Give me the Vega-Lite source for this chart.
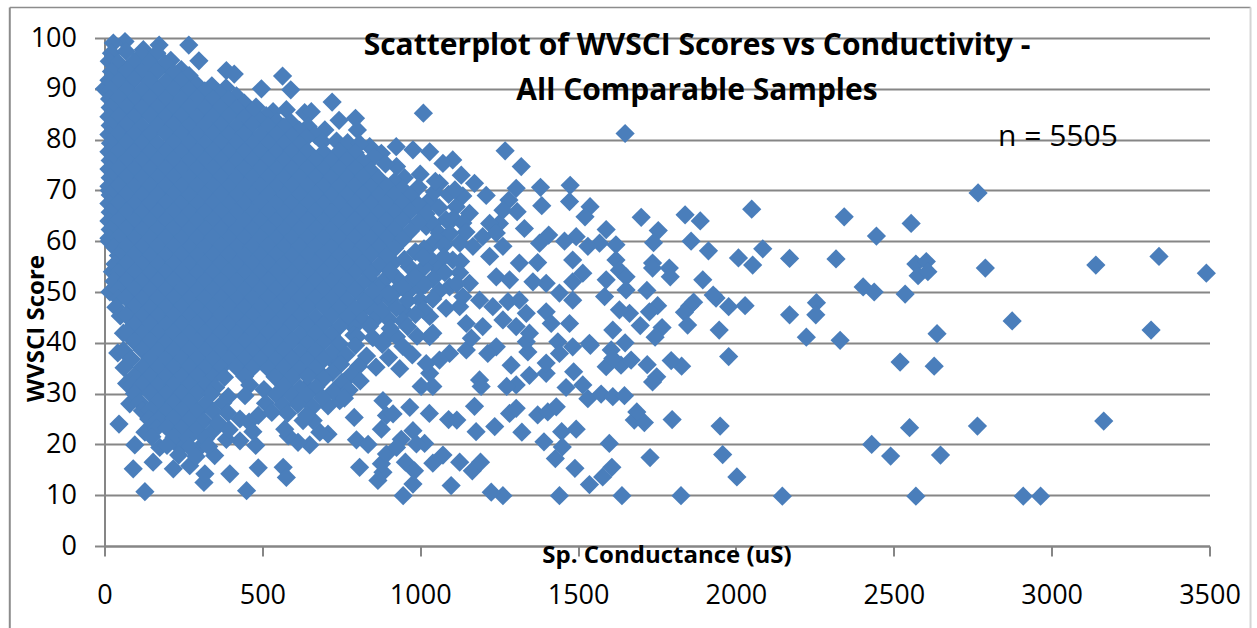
{"$schema":"https://vega.github.io/schema/vega-lite/v6.json","width":1105,"height":508,"autosize":"none","padding":{"left":104.5,"top":38,"right":47.5,"bottom":82},"background":"white","config":{"view":{"stroke":null},"font":"Open Sans"},
"title":{"text":["Scatterplot of WVSCI Scores vs Conductivity -","All Comparable Samples"],"font":"Open Sans","fontSize":30,"fontWeight":"bold","color":"#000000","lineHeight":45,"anchor":"middle","dx":40,"dy":114,"offset":0,"baseline":"middle"},
"datasets":{"samples":[
{"x":3490,"y":53.7},{"x":3340,"y":57},{"x":3140,"y":55.3},{"x":3315,"y":42.5},{"x":3165,"y":24.6},{"x":2965,"y":9.8},{"x":2910,"y":9.8},{"x":2767,"y":69.5},{"x":2790,"y":54.7},{"x":2875,"y":44.3},{"x":2765,"y":23.6},{"x":2570,"y":9.8},{"x":2050,"y":66.3},{"x":2085,"y":58.5},{"x":2008,"y":56.7},{"x":2053,"y":55.3},{"x":2170,"y":56.6},{"x":2317,"y":56.5},{"x":2343,"y":64.8},{"x":2445,"y":61},{"x":2403,"y":51},{"x":2438,"y":50},{"x":2536,"y":49.6},{"x":2555,"y":63.5},{"x":2570,"y":55.5},{"x":2577,"y":53.2},{"x":2603,"y":56},{"x":2608,"y":54},{"x":2255,"y":47.9},{"x":2253,"y":45.5},{"x":2170,"y":45.5},{"x":2223,"y":41.1},{"x":2330,"y":40.5},{"x":2520,"y":36.2},{"x":2637,"y":41.8},{"x":2628,"y":35.4},{"x":2430,"y":20},{"x":2490,"y":17.7},{"x":2550,"y":23.3},{"x":2648,"y":17.9},{"x":2147,"y":9.8},
{"x":2003,"y":13.6},{"x":1958,"y":18},{"x":1950,"y":23.6},{"x":1977,"y":37.3},{"x":1947,"y":42.5},{"x":2029,"y":47.3},{"x":1977,"y":47.1},{"x":1937,"y":48.8},{"x":1928,"y":49.4},{"x":1895,"y":52.4},{"x":1913,"y":58.1},{"x":1887,"y":64},{"x":1839,"y":65.2},{"x":1858,"y":60},{"x":1866,"y":48},{"x":1853,"y":47.2},{"x":1837,"y":46},{"x":1847,"y":43.5},{"x":1828,"y":35.4},{"x":1795,"y":36.5},{"x":1798,"y":24.9},{"x":1826,"y":9.9},{"x":1728,"y":17.4},{"x":1749,"y":33.3},{"x":1736,"y":32.3},{"x":1700,"y":64.7},{"x":1754,"y":62.1},{"x":1739,"y":59.7},{"x":1736,"y":55.7},{"x":1736,"y":54.7},{"x":1789,"y":54.7},{"x":1792,"y":53},{"x":1718,"y":50.3},{"x":1752,"y":47.3},{"x":1726,"y":46.1},{"x":1697,"y":43.4},{"x":1766,"y":43},{"x":1744,"y":41.1},{"x":1719,"y":35.7},{"x":1649,"y":81.2},{"x":1678,"y":24.8},{"x":1710,"y":24.3},{"x":1686,"y":26.4},
{"x":1029,"y":26.1},{"x":1090,"y":24.9},{"x":1116,"y":24.8},{"x":1177,"y":22.5},{"x":1236,"y":23.5},{"x":1322,"y":22.4},{"x":1392,"y":20.5},{"x":1450,"y":19.5},{"x":1428,"y":17.2},{"x":1494,"y":23},{"x":1448,"y":22.5},{"x":1490,"y":15.3},{"x":1536,"y":12.1},{"x":1578,"y":13.6},{"x":1607,"y":15.5},{"x":1599,"y":20.2},{"x":1441,"y":9.9},{"x":1639,"y":9.9},{"x":1262,"y":9.9},{"x":1225,"y":10.6},{"x":1098,"y":11.9},{"x":1125,"y":16.5},{"x":1165,"y":14.8},{"x":1191,"y":16.5},{"x":1072,"y":17.9},{"x":1040,"y":16.3},{"x":1014,"y":20.2},{"x":1172,"y":27.5},{"x":1283,"y":26.1},{"x":1304,"y":27.1},{"x":1372,"y":25.8},{"x":1404,"y":26.4},{"x":1431,"y":27.4},{"x":1531,"y":29},{"x":1573,"y":29.9},{"x":1610,"y":29.4},{"x":1647,"y":29.6},{"x":1462,"y":31.2},{"x":1515,"y":31.7},{"x":1486,"y":34.3},{"x":1399,"y":34},{"x":1399,"y":36},{"x":1346,"y":33.6},{"x":1288,"y":35.6},{"x":1304,"y":31.7},{"x":1274,"y":31.4},{"x":1188,"y":32.7},{"x":1193,"y":31.4},{"x":1040,"y":31.4},{"x":1003,"y":31.4},{"x":1030,"y":34},{"x":1483,"y":39.2},{"x":1539,"y":39.5},{"x":1589,"y":35.3},{"x":1636,"y":35.6},{"x":1668,"y":36.6},{"x":1649,"y":40},{"x":1605,"y":38.6},{"x":1610,"y":36.9},{"x":1436,"y":40.2},{"x":1441,"y":37.9},{"x":1341,"y":38.2},{"x":1336,"y":40.2},{"x":1241,"y":39.2},{"x":1214,"y":37.9},{"x":1146,"y":38.6},{"x":1093,"y":37.9},{"x":1061,"y":36.6},{"x":1019,"y":35.9},{"x":1030,"y":41.2},{"x":1162,"y":40.9},
{"x":1010,"y":85.2},{"x":1269,"y":77.8},{"x":1320,"y":74.7},{"x":1381,"y":70.6},{"x":1475,"y":71},{"x":1385,"y":67},{"x":1473,"y":67.8},{"x":1538,"y":66.8},{"x":1522,"y":64.8},{"x":1589,"y":62.3},{"x":1663,"y":45.8},{"x":1631,"y":46.5},{"x":1610,"y":42.5},{"x":1620,"y":59.3},{"x":1568,"y":59.6},{"x":1531,"y":59},{"x":1494,"y":60.9},{"x":1457,"y":60},{"x":1407,"y":61.2},{"x":1378,"y":59.6},{"x":1330,"y":62.5},{"x":1304,"y":70.4},{"x":1281,"y":68.1},{"x":1307,"y":65.8},{"x":1251,"y":63.5},{"x":1220,"y":63.5},{"x":1209,"y":69},{"x":1172,"y":71.4},{"x":1103,"y":76},{"x":1072,"y":75.3},{"x":1030,"y":77.6},{"x":1130,"y":73},{"x":1372,"y":55.8},{"x":1483,"y":56.3},{"x":1620,"y":56.3},{"x":1631,"y":54.3},{"x":1584,"y":49.1},{"x":1652,"y":50.4},{"x":1652,"y":53},{"x":1589,"y":52.4},{"x":1515,"y":53.7},{"x":1483,"y":52},{"x":1441,"y":49.8},{"x":1483,"y":48.4},{"x":1399,"y":46.1},{"x":1415,"y":43.8},{"x":1473,"y":43.8},{"x":1536,"y":39.9},{"x":1399,"y":51.7},{"x":1357,"y":52},{"x":1314,"y":48.4},{"x":1278,"y":48.1},{"x":1336,"y":45.8},{"x":1304,"y":43.2},{"x":1346,"y":41.9},{"x":1230,"y":47.1},{"x":1188,"y":48.4},{"x":1125,"y":47.1},{"x":1082,"y":46.8},{"x":1030,"y":45.2},{"x":1146,"y":43.8},{"x":1198,"y":43.2},{"x":1262,"y":44.5},{"x":1040,"y":41.9},{"x":1135,"y":49.1},{"x":1241,"y":53},{"x":1283,"y":52.4},{"x":1314,"y":55.7},{"x":1220,"y":57},{"x":1156,"y":51.7},{"x":1093,"y":51},{"x":1051,"y":55},{"x":1103,"y":56.3},{"x":1167,"y":59},{"x":1030,"y":68.1},{"x":1061,"y":71.4},{"x":1114,"y":66.8},{"x":1156,"y":65.5},{"x":1082,"y":64.2},{"x":1019,"y":62.9},{"x":1198,"y":60.9},{"x":1262,"y":59},{"x":1125,"y":59.6},{"x":1040,"y":59.6},{"x":1262,"y":66.1},{"x":1241,"y":61.6},
{"x":1045,"y":69.7},{"x":1090,"y":69.2},{"x":1135,"y":68.9},{"x":1010,"y":66.4},{"x":1060,"y":66.6},{"x":1105,"y":64.5},{"x":1135,"y":63.6},{"x":1040,"y":63.4},{"x":1060,"y":61.6},{"x":1095,"y":61.5},{"x":1145,"y":61.8},{"x":1012,"y":58.5},{"x":1075,"y":59.2},{"x":1030,"y":56.7},{"x":1075,"y":56.9},{"x":1128,"y":56},{"x":1012,"y":54.8},{"x":1078,"y":53.8},{"x":1125,"y":53.8},{"x":1040,"y":52.6},{"x":1000,"y":50.8},{"x":1060,"y":50.2},{"x":1115,"y":51.6},{"x":965,"y":52},{"x":930,"y":52.5},{"x":890,"y":52.6},{"x":845,"y":52.2},{"x":965,"y":55},{"x":915,"y":55.8},{"x":870,"y":50.6},{"x":925,"y":50.3},{"x":960,"y":49.9},{"x":820,"y":48.8},{"x":860,"y":48.7},{"x":905,"y":48.5},{"x":1000,"y":48.4},{"x":1040,"y":48.6},{"x":820,"y":46.6},{"x":850,"y":46.4},{"x":950,"y":46.2},{"x":1010,"y":46.5},{"x":815,"y":44.8},{"x":860,"y":44.8},{"x":900,"y":44.6},{"x":945,"y":44.3},{"x":790,"y":43.1},{"x":890,"y":40.8},{"x":925,"y":41.2},{"x":790,"y":41.5},{"x":745,"y":37.7},{"x":720,"y":36.6},{"x":690,"y":33.6},{"x":640,"y":31.3},
{"x":46,"y":24},{"x":96,"y":19.9},{"x":91,"y":15.2},{"x":128,"y":10.7},{"x":154,"y":16.5},{"x":218,"y":15.2},{"x":270,"y":15.8},{"x":315,"y":12.5},{"x":318,"y":14.2},{"x":397,"y":14.2},{"x":349,"y":17.8},{"x":450,"y":10.9},{"x":487,"y":15.4},{"x":479,"y":19.8},{"x":429,"y":20.7},{"x":386,"y":21},{"x":344,"y":22.7},{"x":302,"y":19.4},{"x":239,"y":19.4},{"x":175,"y":19.4},{"x":128,"y":22.4},{"x":566,"y":15.5},{"x":576,"y":13.5},{"x":808,"y":15.5},{"x":866,"y":12.9},{"x":882,"y":14.5},{"x":877,"y":16.2},{"x":946,"y":9.9},{"x":953,"y":16.5},{"x":893,"y":18.1},{"x":977,"y":12.2},{"x":798,"y":20.9},{"x":835,"y":20},{"x":791,"y":25.3},{"x":650,"y":19.9},{"x":708,"y":22},{"x":682,"y":22.4},{"x":613,"y":20.4},{"x":582,"y":21.7},{"x":571,"y":23},{"x":877,"y":23},{"x":893,"y":25.7},{"x":940,"y":21},{"x":925,"y":19.4},{"x":487,"y":25.7},{"x":429,"y":25},{"x":708,"y":27.6},{"x":745,"y":28.6},{"x":661,"y":24.7},{"x":629,"y":24.7},{"x":882,"y":28.6},{"x":914,"y":26},{"x":967,"y":27.3},{"x":977,"y":22.7},{"x":988,"y":20.1},{"x":982,"y":14.8},
{"x":267,"y":98.6},{"x":299,"y":95.5},{"x":386,"y":93.6},{"x":411,"y":92.9},{"x":497,"y":90},{"x":564,"y":92.5},{"x":590,"y":89.8},{"x":721,"y":87.4},{"x":634,"y":85.3},{"x":655,"y":85.5},{"x":795,"y":84.2},{"x":801,"y":81.9},{"x":743,"y":83.8},{"x":924,"y":78.6},{"x":840,"y":78.6},{"x":877,"y":77.3},{"x":925,"y":74.7},{"x":977,"y":78},{"x":645,"y":82.6},{"x":698,"y":81.9},{"x":576,"y":85.9},{"x":534,"y":85.5},{"x":65,"y":99.3},{"x":28,"y":99},{"x":173,"y":98.6},{"x":123,"y":97.7},{"x":0,"y":90},{"x":15,"y":70},{"x":17,"y":50},{"x":25,"y":54},{"x":15,"y":60},{"x":42,"y":38},{"x":70,"y":32},{"x":80,"y":28},
{"x":22,"y":97},{"x":68,"y":97.4},{"x":118,"y":96.8},{"x":166,"y":97},{"x":210,"y":95.6},
{"x":15,"y":95.4},{"x":44,"y":95.1},{"x":93,"y":95.3},{"x":143,"y":95.2},{"x":192,"y":95},{"x":243,"y":93.8},
{"x":22,"y":93.4},{"x":69,"y":93.6},{"x":117,"y":93.3},{"x":167,"y":93.5},{"x":218,"y":93.2},{"x":268,"y":92.6},
{"x":14,"y":91.7},{"x":45,"y":91.5},{"x":94,"y":91.8},{"x":144,"y":91.6},{"x":193,"y":91.4},{"x":243,"y":91.5},{"x":293,"y":90.8},{"x":340,"y":90.6},{"x":385,"y":90.2},
{"x":20,"y":89.8},{"x":70,"y":89.9},{"x":118,"y":89.7},{"x":169,"y":89.8},{"x":219,"y":89.9},{"x":268,"y":89.7},{"x":318,"y":89.6},{"x":368,"y":88.9},{"x":418,"y":88.6},
{"x":16,"y":88},{"x":45,"y":88.2},{"x":95,"y":87.9},{"x":144,"y":88.1},{"x":194,"y":88},{"x":244,"y":87.9},{"x":293,"y":88.1},{"x":344,"y":88},{"x":393,"y":87.9},{"x":443,"y":87.2},{"x":480,"y":86.4},
{"x":18,"y":86.3},{"x":70,"y":86.4},{"x":119,"y":86.2},{"x":168,"y":86.3},{"x":219,"y":86.1},{"x":269,"y":86.4},{"x":318,"y":86.2},{"x":368,"y":86.3},{"x":418,"y":86.1},{"x":468,"y":85.6},{"x":512,"y":84.7},
{"x":14,"y":84.5},{"x":45,"y":84.6},{"x":94,"y":84.4},{"x":145,"y":84.7},{"x":194,"y":84.5},{"x":243,"y":84.6},{"x":294,"y":84.4},{"x":343,"y":84.5},{"x":394,"y":84.6},{"x":444,"y":84.3},{"x":494,"y":83.8},{"x":545,"y":83.6},{"x":590,"y":83.4},
{"x":18,"y":82.8},{"x":69,"y":82.9},{"x":119,"y":82.7},{"x":169,"y":82.8},{"x":218,"y":82.9},{"x":268,"y":82.7},{"x":319,"y":82.9},{"x":369,"y":82.8},{"x":419,"y":82.6},{"x":468,"y":82.9},{"x":518,"y":82.7},{"x":568,"y":82.5},{"x":618,"y":81.8},{"x":668,"y":80.9},
{"x":14,"y":81},{"x":44,"y":81.2},{"x":95,"y":81.1},{"x":144,"y":81},{"x":194,"y":81.2},{"x":244,"y":81.1},{"x":293,"y":81},{"x":344,"y":81.2},{"x":394,"y":81},{"x":443,"y":81.1},{"x":494,"y":80.9},{"x":544,"y":81},{"x":594,"y":80.7},{"x":640,"y":80.4},{"x":690,"y":79.6},{"x":735,"y":79.7},{"x":770,"y":79.4},{"x":808,"y":79.2},
{"x":19,"y":79.3},{"x":69,"y":79.4},{"x":118,"y":79.3},{"x":168,"y":79.2},{"x":219,"y":79.4},{"x":269,"y":79.3},{"x":318,"y":79.2},{"x":368,"y":79.4},{"x":418,"y":79.3},{"x":469,"y":79.1},{"x":519,"y":79.3},{"x":569,"y":79.2},{"x":618,"y":79},
{"x":14,"y":77.6},{"x":44,"y":77.7},{"x":94,"y":77.5},{"x":144,"y":77.6},{"x":194,"y":77.7},{"x":243,"y":77.5},{"x":294,"y":77.6},{"x":344,"y":77.7},{"x":394,"y":77.5},{"x":444,"y":77.6},{"x":494,"y":77.7},{"x":544,"y":77.5},{"x":593,"y":77.6},{"x":643,"y":77.7},{"x":694,"y":77.5},{"x":744,"y":77.6},{"x":794,"y":77.4},{"x":854,"y":76.6},
{"x":18,"y":75.9},{"x":69,"y":76},{"x":119,"y":75.8},{"x":169,"y":75.9},{"x":218,"y":76},{"x":268,"y":75.8},{"x":318,"y":75.9},{"x":369,"y":76},{"x":419,"y":75.8},{"x":468,"y":75.9},{"x":518,"y":76},{"x":568,"y":75.8},{"x":618,"y":75.9},{"x":669,"y":76},{"x":719,"y":75.8},{"x":768,"y":75.9},{"x":818,"y":75.6},{"x":890,"y":75.2},
{"x":14,"y":74.2},{"x":44,"y":74.3},{"x":95,"y":74.1},{"x":144,"y":74.2},{"x":193,"y":74.3},{"x":244,"y":74.1},{"x":294,"y":74.2},{"x":344,"y":74.3},{"x":393,"y":74.1},{"x":443,"y":74.2},{"x":494,"y":74.3},{"x":544,"y":74.1},{"x":594,"y":74.2},{"x":644,"y":74.3},{"x":693,"y":74.1},{"x":744,"y":74.2},{"x":794,"y":74.3},{"x":844,"y":73.9},{"x":950,"y":72.5},{"x":1000,"y":73.2},{"x":1048,"y":71.8},
{"x":18,"y":72.5},{"x":69,"y":72.6},{"x":118,"y":72.4},{"x":169,"y":72.5},{"x":219,"y":72.6},{"x":269,"y":72.4},{"x":319,"y":72.5},{"x":368,"y":72.6},{"x":418,"y":72.4},{"x":469,"y":72.5},{"x":519,"y":72.6},{"x":568,"y":72.4},{"x":618,"y":72.5},{"x":669,"y":72.6},{"x":718,"y":72.4},{"x":769,"y":72.5},{"x":819,"y":72.6},{"x":869,"y":72.3},{"x":918,"y":71.7},
{"x":14,"y":70.8},{"x":44,"y":70.9},{"x":94,"y":70.7},{"x":144,"y":70.8},{"x":194,"y":70.9},{"x":244,"y":70.7},{"x":293,"y":70.8},{"x":344,"y":70.9},{"x":394,"y":70.7},{"x":444,"y":70.8},{"x":493,"y":70.9},{"x":544,"y":70.7},{"x":594,"y":70.8},{"x":644,"y":70.9},{"x":694,"y":70.7},{"x":744,"y":70.8},{"x":793,"y":70.9},{"x":844,"y":70.7},{"x":894,"y":70.8},{"x":944,"y":70.3},{"x":994,"y":70.6},{"x":1110,"y":70.1},
{"x":18,"y":69.1},{"x":69,"y":69.2},{"x":119,"y":69},{"x":168,"y":69.1},{"x":219,"y":69.2},{"x":269,"y":69},{"x":318,"y":69.1},{"x":369,"y":69.2},{"x":419,"y":69},{"x":468,"y":69.1},{"x":519,"y":69.2},{"x":569,"y":69},{"x":618,"y":69.1},{"x":669,"y":69.2},{"x":719,"y":69},{"x":768,"y":69.1},{"x":819,"y":69.2},{"x":869,"y":69},{"x":918,"y":69.1},{"x":969,"y":68.9},
{"x":14,"y":67.4},{"x":44,"y":67.5},{"x":95,"y":67.3},{"x":144,"y":67.4},{"x":194,"y":67.5},{"x":243,"y":67.3},{"x":294,"y":67.4},{"x":344,"y":67.5},{"x":394,"y":67.3},{"x":443,"y":67.4},{"x":494,"y":67.5},{"x":544,"y":67.3},{"x":593,"y":67.4},{"x":644,"y":67.5},{"x":694,"y":67.3},{"x":744,"y":67.4},{"x":793,"y":67.5},{"x":844,"y":67.3},{"x":894,"y":67.4},{"x":944,"y":67.5},{"x":994,"y":67.2},
{"x":18,"y":65.7},{"x":69,"y":65.8},{"x":118,"y":65.6},{"x":169,"y":65.7},{"x":218,"y":65.8},{"x":269,"y":65.6},{"x":319,"y":65.7},{"x":368,"y":65.8},{"x":419,"y":65.6},{"x":469,"y":65.7},{"x":518,"y":65.8},{"x":569,"y":65.6},{"x":619,"y":65.7},{"x":668,"y":65.8},{"x":719,"y":65.6},{"x":769,"y":65.7},{"x":818,"y":65.8},{"x":869,"y":65.6},{"x":919,"y":65.7},{"x":968,"y":65.8},{"x":1019,"y":65.4},
{"x":14,"y":64},{"x":44,"y":64.1},{"x":94,"y":63.9},{"x":144,"y":64},{"x":194,"y":64.1},{"x":244,"y":63.9},{"x":293,"y":64},{"x":344,"y":64.1},{"x":394,"y":63.9},{"x":444,"y":64},{"x":494,"y":64.1},{"x":543,"y":63.9},{"x":594,"y":64},{"x":644,"y":64.1},{"x":694,"y":63.9},{"x":743,"y":64},{"x":794,"y":64.1},{"x":844,"y":63.9},{"x":893,"y":64},{"x":944,"y":64.1},{"x":994,"y":63.7},
{"x":18,"y":62.3},{"x":69,"y":62.4},{"x":119,"y":62.2},{"x":169,"y":62.3},{"x":218,"y":62.4},{"x":268,"y":62.2},{"x":319,"y":62.3},{"x":369,"y":62.4},{"x":418,"y":62.2},{"x":469,"y":62.3},{"x":519,"y":62.4},{"x":568,"y":62.2},{"x":619,"y":62.3},{"x":669,"y":62.4},{"x":718,"y":62.2},{"x":769,"y":62.3},{"x":819,"y":62.4},{"x":868,"y":62.2},{"x":919,"y":62.3},{"x":969,"y":62},
{"x":14,"y":60.6},{"x":44,"y":60.7},{"x":95,"y":60.5},{"x":144,"y":60.6},{"x":194,"y":60.7},{"x":244,"y":60.5},{"x":294,"y":60.6},{"x":343,"y":60.7},{"x":394,"y":60.5},{"x":444,"y":60.6},{"x":494,"y":60.7},{"x":544,"y":60.5},{"x":594,"y":60.6},{"x":643,"y":60.7},{"x":694,"y":60.5},{"x":744,"y":60.6},{"x":793,"y":60.7},{"x":844,"y":60.5},{"x":894,"y":60.6},{"x":944,"y":60.3},
{"x":30,"y":58.9},{"x":69,"y":59},{"x":118,"y":58.8},{"x":168,"y":58.9},{"x":219,"y":59},{"x":269,"y":58.8},{"x":318,"y":58.9},{"x":369,"y":59},{"x":419,"y":58.8},{"x":468,"y":58.9},{"x":518,"y":59},{"x":569,"y":58.8},{"x":618,"y":58.9},{"x":668,"y":59},{"x":719,"y":58.8},{"x":769,"y":58.9},{"x":818,"y":59},{"x":869,"y":58.8},{"x":919,"y":58.6},{"x":985,"y":57.9},
{"x":44,"y":57.2},{"x":94,"y":57.3},{"x":144,"y":57.1},{"x":194,"y":57.2},{"x":243,"y":57.3},{"x":294,"y":57.1},{"x":344,"y":57.2},{"x":393,"y":57.3},{"x":444,"y":57.1},{"x":494,"y":57.2},{"x":543,"y":57.3},{"x":594,"y":57.1},{"x":644,"y":57.2},{"x":693,"y":57.3},{"x":744,"y":57.1},{"x":794,"y":57.2},{"x":843,"y":57.3},{"x":894,"y":57.1},{"x":950,"y":56.4},{"x":1010,"y":56.9},
{"x":33,"y":55.5},{"x":69,"y":55.6},{"x":119,"y":55.4},{"x":169,"y":55.5},{"x":218,"y":55.6},{"x":268,"y":55.4},{"x":319,"y":55.5},{"x":368,"y":55.6},{"x":418,"y":55.4},{"x":469,"y":55.5},{"x":518,"y":55.6},{"x":568,"y":55.4},{"x":619,"y":55.5},{"x":668,"y":55.6},{"x":718,"y":55.4},{"x":769,"y":55.5},{"x":818,"y":55.6},{"x":868,"y":55.2},
{"x":44,"y":53.8},{"x":95,"y":53.9},{"x":144,"y":53.7},{"x":193,"y":53.8},{"x":244,"y":53.9},{"x":294,"y":53.7},{"x":343,"y":53.8},{"x":394,"y":53.9},{"x":444,"y":53.7},{"x":493,"y":53.8},{"x":544,"y":53.9},{"x":594,"y":53.7},{"x":643,"y":53.8},{"x":694,"y":53.9},{"x":744,"y":53.7},{"x":793,"y":53.8},{"x":844,"y":53.6},{"x":905,"y":54.1},{"x":985,"y":53.1},
{"x":30,"y":52.1},{"x":69,"y":52.2},{"x":118,"y":52},{"x":169,"y":52.1},{"x":219,"y":52.2},{"x":268,"y":52},{"x":319,"y":52.1},{"x":369,"y":52.2},{"x":418,"y":52},{"x":469,"y":52.1},{"x":519,"y":52.2},{"x":568,"y":52},{"x":619,"y":52.1},{"x":669,"y":52.2},{"x":718,"y":52},{"x":769,"y":52.1},{"x":819,"y":51.8},{"x":945,"y":50.9},{"x":1015,"y":51.4},
{"x":44,"y":50.4},{"x":94,"y":50.5},{"x":144,"y":50.3},{"x":194,"y":50.4},{"x":243,"y":50.5},{"x":294,"y":50.3},{"x":344,"y":50.4},{"x":393,"y":50.5},{"x":444,"y":50.3},{"x":494,"y":50.4},{"x":543,"y":50.5},{"x":594,"y":50.3},{"x":644,"y":50.4},{"x":693,"y":50.5},{"x":744,"y":50.3},{"x":794,"y":50.4},{"x":850,"y":50.1},{"x":900,"y":49.8},
{"x":45,"y":48.7},{"x":69,"y":48.8},{"x":119,"y":48.6},{"x":168,"y":48.7},{"x":219,"y":48.8},{"x":269,"y":48.6},{"x":318,"y":48.7},{"x":369,"y":48.8},{"x":419,"y":48.6},{"x":468,"y":48.7},{"x":519,"y":48.8},{"x":569,"y":48.6},{"x":618,"y":48.7},{"x":668,"y":48.8},{"x":719,"y":48.6},{"x":769,"y":48.4},{"x":825,"y":48},{"x":960,"y":48.3},
{"x":36,"y":47},{"x":94,"y":47.1},{"x":144,"y":46.9},{"x":194,"y":47},{"x":244,"y":47.1},{"x":293,"y":46.9},{"x":344,"y":47},{"x":394,"y":47.1},{"x":443,"y":46.9},{"x":494,"y":47},{"x":544,"y":47.1},{"x":593,"y":46.9},{"x":644,"y":47},{"x":694,"y":47.1},{"x":743,"y":46.9},{"x":794,"y":46.7},{"x":880,"y":46.4},{"x":925,"y":46.8},{"x":985,"y":45.6},
{"x":50,"y":45.3},{"x":69,"y":45.4},{"x":118,"y":45.2},{"x":169,"y":45.3},{"x":219,"y":45.4},{"x":268,"y":45.2},{"x":319,"y":45.3},{"x":369,"y":45.4},{"x":418,"y":45.2},{"x":469,"y":45.3},{"x":519,"y":45.4},{"x":568,"y":45.2},{"x":619,"y":45.3},{"x":669,"y":45},{"x":718,"y":45.2},{"x":769,"y":45.1},
{"x":95,"y":43.6},{"x":144,"y":43.7},{"x":194,"y":43.5},{"x":243,"y":43.6},{"x":294,"y":43.7},{"x":344,"y":43.5},{"x":393,"y":43.6},{"x":444,"y":43.7},{"x":494,"y":43.5},{"x":543,"y":43.6},{"x":594,"y":43.7},{"x":644,"y":43.4},{"x":694,"y":43.6},{"x":744,"y":43.2},{"x":840,"y":43.3},{"x":905,"y":42.8},{"x":960,"y":43.2},
{"x":60,"y":41.9},{"x":69,"y":42},{"x":119,"y":41.8},{"x":168,"y":41.9},{"x":218,"y":42},{"x":269,"y":41.8},{"x":318,"y":41.9},{"x":369,"y":42},{"x":419,"y":41.8},{"x":468,"y":41.9},{"x":519,"y":42},{"x":569,"y":41.8},{"x":618,"y":41.6},{"x":668,"y":41.8},{"x":719,"y":41.5},{"x":800,"y":41.2},{"x":850,"y":41},{"x":990,"y":41.3},
{"x":95,"y":40.2},{"x":144,"y":40.3},{"x":193,"y":40.1},{"x":244,"y":40.2},{"x":294,"y":40.3},{"x":343,"y":40.1},{"x":394,"y":40.2},{"x":444,"y":40.3},{"x":493,"y":40.1},{"x":544,"y":40.2},{"x":594,"y":40.3},{"x":643,"y":39.9},{"x":694,"y":40.1},{"x":744,"y":39.8},{"x":795,"y":39.5},{"x":880,"y":39.7},{"x":945,"y":39.3},
{"x":60,"y":38.5},{"x":119,"y":38.6},{"x":169,"y":38.4},{"x":218,"y":38.5},{"x":269,"y":38.6},{"x":319,"y":38.4},{"x":368,"y":38.5},{"x":418,"y":38.6},{"x":469,"y":38.4},{"x":519,"y":38.3},{"x":568,"y":38.5},{"x":619,"y":38.2},{"x":669,"y":38.4},{"x":719,"y":38},{"x":765,"y":37.6},{"x":830,"y":37.4},{"x":900,"y":37.1},{"x":975,"y":37.6},
{"x":85,"y":36.8},{"x":144,"y":36.9},{"x":194,"y":36.7},{"x":244,"y":36.8},{"x":293,"y":36.9},{"x":344,"y":36.7},{"x":394,"y":36.8},{"x":443,"y":36.9},{"x":494,"y":36.7},{"x":544,"y":36.6},{"x":594,"y":36.8},{"x":644,"y":36.5},{"x":694,"y":36.7},{"x":748,"y":35.8},{"x":805,"y":35.4},{"x":860,"y":35.2},{"x":935,"y":34.9},
{"x":62,"y":35.1},{"x":119,"y":35.2},{"x":168,"y":35},{"x":219,"y":35.1},{"x":268,"y":35.2},{"x":319,"y":35},{"x":369,"y":35.1},{"x":418,"y":35.2},{"x":468,"y":35},{"x":519,"y":34.9},{"x":568,"y":35.1},{"x":618,"y":34.8},{"x":668,"y":35},{"x":722,"y":34.2},{"x":782,"y":33.8},
{"x":95,"y":33.4},{"x":144,"y":33.5},{"x":194,"y":33.3},{"x":244,"y":33.4},{"x":294,"y":33.5},{"x":344,"y":33.3},{"x":380,"y":33.2},{"x":444,"y":33.4},{"x":540,"y":33.3},{"x":594,"y":33.2},{"x":644,"y":33.4},{"x":694,"y":32.9},{"x":752,"y":32.2},{"x":810,"y":32.5},
{"x":88,"y":31.7},{"x":119,"y":31.8},{"x":169,"y":31.6},{"x":218,"y":31.7},{"x":269,"y":31.8},{"x":319,"y":31.6},{"x":352,"y":31.2},{"x":460,"y":31.7},{"x":505,"y":30.8},{"x":568,"y":31.5},{"x":619,"y":31.1},{"x":670,"y":31.3},{"x":724,"y":30.4},{"x":775,"y":30.7},
{"x":95,"y":30},{"x":144,"y":30.1},{"x":194,"y":29.9},{"x":243,"y":30},{"x":294,"y":30.1},{"x":338,"y":29.9},{"x":392,"y":29.4},{"x":445,"y":29.6},{"x":543,"y":29.8},{"x":594,"y":29.6},{"x":640,"y":29.7},{"x":690,"y":29.2},{"x":760,"y":29.1},
{"x":112,"y":28.3},{"x":169,"y":28.4},{"x":219,"y":28.2},{"x":268,"y":28.3},{"x":319,"y":28},{"x":375,"y":28.2},{"x":510,"y":28.1},{"x":565,"y":27.8},{"x":612,"y":27.9},{"x":660,"y":27.4},
{"x":120,"y":26.6},{"x":144,"y":26.7},{"x":194,"y":26.5},{"x":244,"y":26.6},{"x":292,"y":26.4},{"x":345,"y":26.5},{"x":390,"y":26.2},{"x":530,"y":26.3},{"x":580,"y":26.1},{"x":640,"y":25.8},
{"x":140,"y":25},{"x":170,"y":24.9},{"x":219,"y":25.1},{"x":268,"y":24.8},{"x":315,"y":24.6},{"x":360,"y":24.2},{"x":458,"y":24.4},
{"x":165,"y":23.2},{"x":198,"y":23.3},{"x":243,"y":23.1},{"x":290,"y":22.8},{"x":395,"y":22.9},{"x":470,"y":22.5},
{"x":150,"y":21.5},{"x":220,"y":21.4},{"x":265,"y":21.3},{"x":320,"y":21.1},
{"x":198,"y":19.8},{"x":270,"y":19.5},{"x":330,"y":19.6},
{"x":235,"y":17.9},{"x":290,"y":17.6}
],
"frame":[{"label":"frame"}],"note":[{"label":"n = 5505"}]},
"layer":[
{"data":{"name":"samples"},"mark":{"type":"point","shape":"diamond","filled":true,"size":370,"color":"#4a7ebb","opacity":1},"encoding":{
"x":{"field":"x","type":"quantitative","scale":{"domain":[0,3500],"nice":false,"zero":false},"axis":{"values":[0,500,1000,1500,2000,2500,3000,3500],"format":"d","labelFlush":false,"grid":false,"domainColor":"#868686","domainWidth":2,"tickColor":"#868686","tickWidth":2,"tickSize":10,"labelFont":"Open Sans","labelFontSize":27,"labelColor":"#000000","labelPadding":39,"labelBaseline":"middle","labelOverlap":false,"title":"Sp. Conductance (uS)","titleFont":"Open Sans","titleFontSize":24,"titleFontWeight":"bold","titleColor":"#000000","titleX":562,"titleY":9,"titleBaseline":"middle"}},
"y":{"field":"y","type":"quantitative","scale":{"domain":[0,100],"nice":false,"zero":false},"axis":{"values":[0,10,20,30,40,50,60,70,80,90,100],"labelFlush":false,"grid":true,"gridColor":"#868686","gridWidth":2,"domainColor":"#868686","domainWidth":2,"tickColor":"#868686","tickWidth":2,"tickSize":10,"labelFont":"Open Sans","labelFontSize":27,"labelColor":"#000000","labelPadding":18,"labelOverlap":false,"title":"WVSCI Score","titleFont":"Open Sans","titleFontSize":24,"titleFontWeight":"bold","titleColor":"#000000","titleX":-68,"titleY":290,"titleAngle":-90,"titleBaseline":"middle"}}
}},
{"data":{"name":"note"},"mark":{"type":"text","font":"Open Sans","fontSize":30,"color":"#000000","align":"center","baseline":"middle"},"encoding":{"text":{"field":"label"},"x":{"datum":3020},"y":{"datum":80.6}}},
{"data":{"name":"frame"},"mark":{"type":"rule","color":"#8c8c8c","strokeWidth":2},"encoding":{"x":{"datum":-300},"y":{"datum":106},"y2":{"datum":-17}}},
{"data":{"name":"frame"},"mark":{"type":"rule","color":"#8c8c8c","strokeWidth":1.5},"encoding":{"y":{"datum":106},"x":{"datum":-300},"x2":{"datum":3630}}},
{"data":{"name":"frame"},"mark":{"type":"rule","color":"#d4d4d4","strokeWidth":2},"encoding":{"x":{"datum":3630},"y":{"datum":106},"y2":{"datum":-17}}}
]}
